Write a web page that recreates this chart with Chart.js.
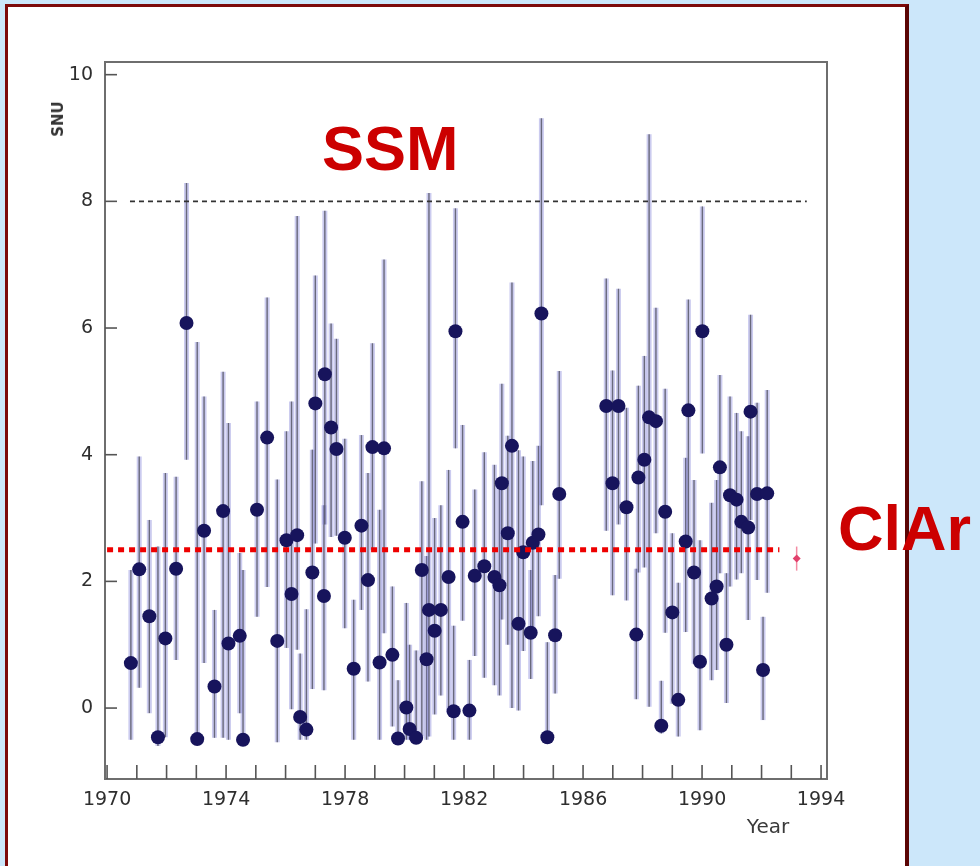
<!DOCTYPE html>
<html>
<head>
<meta charset="utf-8">
<title>Homestake chlorine runs</title>
<script src="https://cdn.jsdelivr.net/npm/chart.js@4.4.1/dist/chart.umd.min.js"></script>
<style>
    html, body { margin: 0; padding: 0; }
    body {
        width: 980px;
        height: 866px;
        background: #cce7fa;
        position: relative;
        overflow: hidden;
        font-family: "DejaVu Sans", sans-serif;
    }
    #panel {
        position: absolute;
        left: 5px;
        top: 4px;
        width: 897px;
        height: 880px;
        background: #ffffff;
        border: 3px solid #7d0a0a;
        border-right: 4px solid #5a0505;
    }
    #chartCanvas { position: absolute; left: 0; top: 0; }
    .tag {
        position: absolute;
        font-family: "Liberation Sans", Arial, sans-serif;
        font-weight: bold;
        font-size: 63px;
        line-height: 1;
        color: #cc0000;
        white-space: nowrap;
    }
    #ssm { left: 322px; top: 117px; }
    #clar { left: 838px; top: 497px; }
    #snu {
        position: absolute;
        left: 58px;
        top: 119px;
        transform: translate(-50%, -50%) rotate(-90deg);
        font: bold 15px "DejaVu Sans", sans-serif;
        color: #333;
    }
    #year {
        position: absolute;
        left: 768px;
        top: 826px;
        transform: translate(-50%, -50%);
        font: 20px "DejaVu Sans", sans-serif;
        color: #3a3a3a;
    }
</style>
</head>
<body>
<div id="panel"></div>
<canvas id="chartCanvas" width="980" height="866"></canvas>
<div id="snu">SNU</div>
<div id="year">Year</div>
<div class="tag" id="ssm">SSM</div>
<div class="tag" id="clar">ClAr</div>

<script>
// run dates (decimal year) and measured rates (SNU) with error bar ends
const runYear = [
    1970.80, 1971.08, 1971.42, 1971.71, 1971.96, 1972.32, 1972.67, 1973.03, 1973.26, 1973.61,
    1973.90, 1974.08, 1974.46, 1974.57, 1975.04, 1975.38, 1975.72, 1976.03, 1976.20, 1976.39,
    1976.49, 1976.70, 1976.90, 1977.00, 1977.29, 1977.32, 1977.53, 1977.71, 1977.99, 1978.29,
    1978.55, 1978.77, 1978.92, 1979.16, 1979.31, 1979.59, 1979.78, 1980.06, 1980.17, 1980.39,
    1980.58, 1980.74, 1980.82, 1981.01, 1981.22, 1981.48, 1981.65, 1981.71, 1981.95, 1982.18,
    1982.36, 1982.68, 1983.02, 1983.19, 1983.27, 1983.47, 1983.61, 1983.83, 1983.99, 1984.24,
    1984.31, 1984.50, 1984.60, 1984.80, 1985.06, 1985.20, 1986.78, 1986.99, 1987.19, 1987.46,
    1987.79, 1987.86, 1988.06, 1988.22, 1988.45, 1988.63, 1988.76, 1989.00, 1989.20, 1989.45,
    1989.54, 1989.73, 1989.93, 1990.01, 1990.32, 1990.49, 1990.60, 1990.82, 1990.94, 1991.16,
    1991.32, 1991.55, 1991.63, 1991.85, 1992.05, 1992.19
];
const runSnu = [
    0.71, 2.19, 1.45, -0.46, 1.10, 2.20, 6.08, -0.49, 2.80, 0.34,
    3.11, 1.02, 1.14, -0.50, 3.13, 4.27, 1.06, 2.65, 1.80, 2.73,
    -0.14, -0.34, 2.14, 4.81, 1.77, 5.27, 4.43, 4.09, 2.69, 0.62,
    2.88, 2.02, 4.12, 0.72, 4.10, 0.84, -0.48, 0.01, -0.33, -0.47,
    2.18, 0.77, 1.55, 1.22, 1.55, 2.07, -0.05, 5.95, 2.94, -0.04,
    2.09, 2.24, 2.07, 1.94, 3.55, 2.76, 4.14, 1.33, 2.46, 1.19,
    2.61, 2.74, 6.23, -0.46, 1.15, 3.38, 4.77, 3.55, 4.77, 3.17,
    1.16, 3.64, 3.92, 4.59, 4.53, -0.28, 3.10, 1.51, 0.13, 2.63,
    4.70, 2.14, 0.73, 5.95, 1.73, 1.92, 3.80, 1.00, 3.36, 3.29,
    2.94, 2.85, 4.68, 3.38, 0.60, 3.39
];
const runLow = [
    -0.50, 0.32, -0.08, -0.60, -0.46, 0.76, 3.92, -0.55, 0.71, -0.47,
    -0.47, -0.50, -0.08, -0.55, 1.44, 1.91, -0.54, 0.95, -0.02, 0.92,
    -0.50, -0.50, 0.30, 2.60, 0.28, 2.90, 2.70, 2.72, 1.26, -0.50,
    1.55, 0.42, 2.50, -0.50, 1.18, -0.29, -0.55, -0.50, -0.50, -0.55,
    -0.45, -0.50, -0.45, -0.10, 0.20, -0.08, -0.50, 4.10, 1.38, -0.50,
    0.82, 0.48, 0.36, 0.20, 1.40, 1.00, 0.00, -0.04, 0.90, 0.46,
    1.20, 1.45, 3.20, -0.55, 0.23, 2.04, 2.80, 1.78, 2.90, 1.70,
    0.14, 2.14, 2.22, 0.02, 2.76, -0.40, 1.19, 0.07, -0.45, 1.20,
    2.70, 0.70, -0.35, 4.02, 0.44, 0.60, 2.13, 0.08, 1.92, 2.03,
    2.13, 1.39, 2.97, 2.02, -0.19, 1.82
];
const runHigh = [
    2.18, 3.97, 2.97, 2.55, 3.71, 3.65, 8.29, 5.78, 4.92, 1.55,
    5.31, 4.50, 2.45, 2.18, 4.84, 6.48, 3.61, 4.37, 4.84, 7.77,
    0.86, 1.56, 4.08, 6.83, 3.20, 7.85, 6.07, 5.83, 4.25, 1.71,
    4.31, 3.71, 5.76, 3.13, 7.08, 1.92, 0.44, 1.66, 1.00, 0.91,
    3.58, 2.40, 8.13, 3.00, 3.20, 3.76, 1.30, 7.89, 4.47, 0.76,
    3.45, 4.04, 3.84, 3.60, 5.12, 4.30, 6.72, 4.07, 3.97, 2.18,
    3.90, 4.14, 9.31, 1.04, 2.10, 5.32, 6.78, 5.33, 6.62, 4.74,
    2.20, 5.09, 5.56, 9.06, 6.32, 0.43, 5.04, 2.76, 1.98, 3.95,
    6.45, 3.60, 2.65, 7.92, 3.24, 3.60, 5.26, 2.13, 4.92, 4.66,
    4.37, 4.29, 6.21, 4.82, 1.44, 5.02
];

// combined chlorine-argon average shown at the right
const meanYear = [1993.18];
const meanSnu = [2.36];
const meanLow = [2.17];
const meanHigh = [2.55];

// reference levels
const ssmLevel = 8;
const ssmSpan = [1970.77, 1993.52];
const clarLevel = 2.5;
const clarSpan = [1970.0, 1992.6];

// axis ticks
const yTickValues = [0, 2, 4, 6, 8, 10];
const xTickYears = [1970, 1971, 1972, 1973, 1974, 1975, 1976, 1977, 1978, 1979, 1980, 1981, 1982,
    1983, 1984, 1985, 1986, 1987, 1988, 1989, 1990, 1991, 1992, 1993, 1994];
const xLabelYears = [1970, 1974, 1978, 1982, 1986, 1990, 1994];

const errorBars = {
    id: "errorBars",
    beforeDatasetsDraw(chart) {
        const { ctx, chartArea, scales } = chart;
        ctx.save();
        ctx.beginPath();
        ctx.rect(chartArea.left, chartArea.top, chartArea.width, chartArea.height);
        ctx.clip();
        ctx.lineCap = "butt";
        runYear.forEach((yr, i) => {
            let x = scales.x.getPixelForValue(yr);
            let top = scales.y.getPixelForValue(runHigh[i]);
            let bot = scales.y.getPixelForValue(runLow[i]);
            ctx.strokeStyle = "rgba(125, 125, 215, 0.4)";
            ctx.lineWidth = 5;
            ctx.beginPath();
            ctx.moveTo(x, top);
            ctx.lineTo(x, bot);
            ctx.stroke();
            ctx.strokeStyle = "rgba(80, 80, 95, 0.8)";
            ctx.lineWidth = 1.4;
            ctx.beginPath();
            ctx.moveTo(x, top);
            ctx.lineTo(x, bot);
            ctx.stroke();
        });
        meanYear.forEach((yr, i) => {
            let x = scales.x.getPixelForValue(yr);
            ctx.strokeStyle = "rgba(240, 110, 140, 0.8)";
            ctx.lineWidth = 1.5;
            ctx.beginPath();
            ctx.moveTo(x, scales.y.getPixelForValue(meanHigh[i]));
            ctx.lineTo(x, scales.y.getPixelForValue(meanLow[i]));
            ctx.stroke();
        });
        ctx.restore();
    },
};

const frameAndTicks = {
    id: "frameAndTicks",
    afterDatasetsDraw(chart) {
        const { ctx, chartArea, scales } = chart;
        ctx.save();
        ctx.strokeStyle = "#6e6e6e";
        ctx.lineWidth = 2;
        ctx.strokeRect(chartArea.left, chartArea.top, chartArea.width, chartArea.height);
        ctx.lineWidth = 1.6;
        ctx.strokeStyle = "#555";
        scales.y.ticks.forEach((t) => {
            let y = scales.y.getPixelForValue(t.value);
            ctx.beginPath();
            ctx.moveTo(chartArea.left, y);
            ctx.lineTo(chartArea.left + 12, y);
            ctx.stroke();
        });
        scales.x.ticks.forEach((t) => {
            let x = scales.x.getPixelForValue(t.value);
            ctx.beginPath();
            ctx.moveTo(x, chartArea.bottom);
            ctx.lineTo(x, chartArea.bottom - 14);
            ctx.stroke();
        });
        ctx.restore();
    },
};

const runPoints = runYear.map((yr, i) => ({ x: yr, y: runSnu[i] }));
const meanPoints = meanYear.map((yr, i) => ({ x: yr, y: meanSnu[i] }));
const tickFont = { family: "DejaVu Sans", size: 19 };

new Chart(document.getElementById("chartCanvas"), {
    type: "scatter",
    data: {
        datasets: [
            {
                label: "ClAr",
                type: "line",
                data: clarSpan.map((x) => ({ x: x, y: clarLevel })),
                borderColor: "#ee0000",
                borderWidth: 5,
                borderDash: [6, 5],
                pointRadius: 0,
                fill: false,
                order: 0,
            },
            {
                label: "ClAr mean",
                data: meanPoints,
                pointStyle: "rectRot",
                pointRadius: 4,
                backgroundColor: "#e2406c",
                borderWidth: 0,
                order: 1,
            },
            {
                label: "Runs",
                data: runPoints,
                pointRadius: 7,
                backgroundColor: "#17145c",
                borderWidth: 0,
                order: 2,
            },
            {
                label: "SSM",
                type: "line",
                data: ssmSpan.map((x) => ({ x: x, y: ssmLevel })),
                borderColor: "#333",
                borderWidth: 1.6,
                borderDash: [5, 4],
                pointRadius: 0,
                fill: false,
                order: 3,
            },
        ],
    },
    options: {
        responsive: false,
        animation: false,
        layout: { padding: { left: 45, top: 62, right: 153, bottom: 47 } },
        plugins: {
            legend: { display: false },
            tooltip: { enabled: false },
        },
        scales: {
            x: {
                type: "linear",
                min: 1969.93,
                max: 1994.2,
                afterBuildTicks: (s) => {
                    s.ticks = xTickYears.map((v) => ({ value: v }));
                },
                afterFit: (s) => {
                    s.height = 40;
                },
                grid: { display: false, drawTicks: false },
                border: { display: false },
                ticks: {
                    autoSkip: false,
                    maxRotation: 0,
                    padding: 10,
                    color: "#2e2e2e",
                    font: tickFont,
                    callback: (v) => (xLabelYears.includes(v) ? String(v) : ""),
                },
            },
            y: {
                min: -1.12,
                max: 10.2,
                afterBuildTicks: (s) => {
                    s.ticks = yTickValues.map((v) => ({ value: v }));
                },
                afterFit: (s) => {
                    s.width = 60;
                },
                grid: { display: false, drawTicks: false },
                border: { display: false },
                ticks: {
                    padding: 12,
                    color: "#2e2e2e",
                    font: tickFont,
                },
            },
        },
    },
    plugins: [errorBars, frameAndTicks],
});
</script>
</body>
</html>
